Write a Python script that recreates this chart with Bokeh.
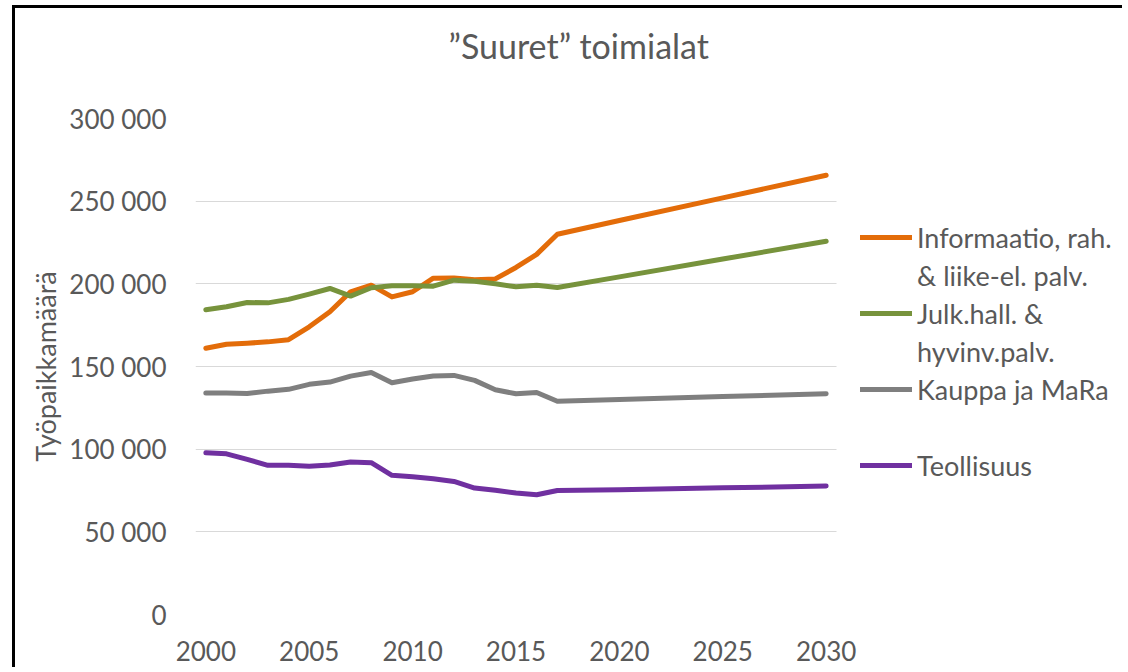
from bokeh.plotting import figure
from bokeh.models import (Range1d, FixedTicker, CustomJSTickFormatter, Legend, LegendItem, Title)
from bokeh.embed import file_html
from bokeh.resources import INLINE

# ---- data ----
years = [2000, 2001, 2002, 2003, 2004, 2005, 2006, 2007, 2008, 2009, 2010,
         2011, 2012, 2013, 2014, 2015, 2016, 2017, 2020, 2025, 2030]
informaatio = [161000, 163500, 164100, 164900, 166200, 174000, 183100, 195200, 199200, 192100, 195200,
               203400, 203600, 202500, 203000, 209900, 217800, 230000, 238300, 252000, 265700]
julkinen = [184300, 186100, 188700, 188500, 190600, 193800, 197200, 192600, 197600, 198800, 198800,
            198600, 202200, 201600, 200000, 198200, 199200, 197800, 204200, 215000, 225800]
kauppa = [133900, 133900, 133700, 135100, 136200, 139200, 140600, 144200, 146400, 140200, 142400,
          144200, 144600, 141600, 135900, 133500, 134300, 129000, 130100, 131800, 133500]
teollisuus = [97800, 97200, 93800, 90200, 90200, 89600, 90400, 92200, 91800, 84200, 83300,
              82100, 80500, 76500, 75100, 73500, 72400, 75000, 75400, 76600, 77700]

series_names = ["Informaatio, rah.", "Julk.hall. &", "Kauppa ja MaRa", "Teollisuus"]
series_second_lines = ["& liike-el. palv.", "hyvinv.palv.", " ", None]
series_colors = ["#E36C09", "#77933C", "#7F7F7F", "#7030A0"]
series_values = [informaatio, julkinen, kauppa, teollisuus]

x_ticks = [2000, 2005, 2010, 2015, 2020, 2025, 2030]
y_ticks = [0, 50000, 100000, 150000, 200000, 250000, 300000]
title_text = "\u201dSuuret\u201d toimialat"
y_label = "Ty\u00f6paikkam\u00e4\u00e4r\u00e4"

FONT = "Lato"
TXT = "#595959"

X0, X1 = 1999.5, 2030.5          # extent of the plotted period
W, H = 1110, 662
p = figure(width=W, height=H, output_backend="svg", toolbar_location=None,
           x_range=Range1d(X0, X0 + (X1 - X0) * 925 / 641), y_range=Range1d(0, 300000),
           min_border_left=180, min_border_right=5, min_border_top=110, min_border_bottom=56)
p.styles = {"border-left": "3px solid black", "border-top": "3px solid black",
            "margin-left": "12px", "margin-top": "5px"}
p.outline_line_color = None
p.background_fill_color = "white"
p.border_fill_color = "white"

# title (outermost) + spacer between title and plot area
p.title.text = title_text
p.title.text_font = FONT
p.title.text_font_size = "34px"
p.title.text_font_style = "normal"
p.title.text_color = TXT
p.title.align = "left"
p.title.offset = 253
p.add_layout(Title(text=" ", text_font_size="22px", standoff=21), "above")

renderers = []
for vals, col in zip(series_values, series_colors):
    r = p.line(years, vals, line_color=col, line_width=5, line_cap="round", line_join="round")
    renderers.append(r)

p.xgrid.grid_line_color = None
if "cross_bounds" in p.ygrid[0].properties():
    p.ygrid.grid_line_color = "#D9D9D9"
    p.ygrid.grid_line_width = 1.2
    p.ygrid.cross_bounds = (X0, X1)
else:
    p.ygrid.grid_line_color = None
    p.segment(x0=[X0] * len(y_ticks), x1=[X1] * len(y_ticks), y0=y_ticks, y1=y_ticks,
              line_color="#D9D9D9", line_width=1.2, level="underlay")

p.xaxis.ticker = FixedTicker(ticks=x_ticks)
p.yaxis.ticker = FixedTicker(ticks=y_ticks)
p.yaxis.formatter = CustomJSTickFormatter(code="return String(tick).replace(/\\B(?=(\\d{3})+(?!\\d))/g, ' ');")
for ax in (p.xaxis[0], p.yaxis[0]):
    ax.axis_line_color = None
    ax.major_tick_line_color = None
    ax.minor_tick_line_color = None
    ax.major_tick_out = 0
    ax.major_tick_in = 0
    ax.major_label_text_font = FONT
    ax.major_label_text_font_size = "26px"
    ax.major_label_text_color = TXT
p.xaxis.major_label_standoff = 26
p.yaxis.major_label_standoff = 29
p.yaxis.axis_label = y_label
p.yaxis.axis_label_text_font = FONT
p.yaxis.axis_label_text_font_size = "27px"
p.yaxis.axis_label_text_font_style = "normal"
p.yaxis.axis_label_text_color = TXT
p.yaxis.axis_label_standoff = 4

# legend: one legend, continuation lines as glyph-less items
items = []
for r, name, second in zip(renderers, series_names, series_second_lines):
    items.append(LegendItem(label=name, renderers=[r]))
    if second is not None:
        blank = p.line([], [], line_alpha=0)
        items.append(LegendItem(label=second, renderers=[blank]))
legend = Legend(items=items, location=(665, 130), orientation="vertical",
                padding=0, margin=0, spacing=0, border_line_color=None, background_fill_alpha=0,
                glyph_width=52, glyph_height=38, label_standoff=5, label_height=38,
                label_text_font=FONT, label_text_font_size="27px", label_text_color=TXT,
                label_text_baseline="middle")
p.add_layout(legend, "center")

open("out.html", "w").write(file_html(p, INLINE))
